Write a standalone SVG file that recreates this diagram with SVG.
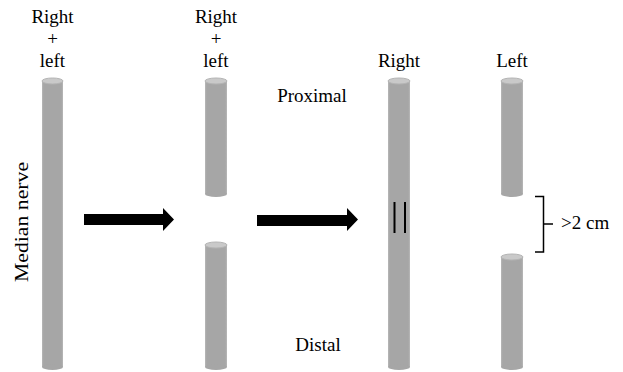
<svg xmlns="http://www.w3.org/2000/svg" width="623" height="372" viewBox="0 0 623 372">
<style>
.t{font-family:"Liberation Serif","Times New Roman",serif;font-size:19px;fill:#000;text-anchor:middle}
.body{fill:#a6a6a6}
.top{fill:#c9c9c9;stroke:#b4b4b4;stroke-width:1}
.arr{fill:#000}
</style>
<defs>
<linearGradient id="g" x1="0" x2="1" y1="0" y2="0">
<stop offset="0" stop-color="#b8b8b8"/>
<stop offset="0.08" stop-color="#a6a6a6"/>
<stop offset="0.92" stop-color="#a6a6a6"/>
<stop offset="1" stop-color="#b8b8b8"/>
</linearGradient>
</defs>
<rect width="623" height="372" fill="#fff"/>
<g id="labels">
<text class="t" x="52.5" y="23">Right</text>
<text class="t" x="52.5" y="45">+</text>
<text class="t" x="52.5" y="67">left</text>
<text class="t" x="216" y="23">Right</text>
<text class="t" x="216" y="45">+</text>
<text class="t" x="216" y="67">left</text>
<text class="t" x="399" y="67">Right</text>
<text class="t" x="512" y="67">Left</text>
<text class="t" x="312" y="102">Proximal</text>
<text class="t" x="318" y="351">Distal</text>
<text class="t" x="0" y="0" transform="translate(28,222) rotate(-90)" textLength="120" lengthAdjust="spacingAndGlyphs">Median nerve</text>
</g>
<g id="nerve1">
<rect x="42" y="81" width="21" height="286" fill="url(#g)"/>
<ellipse cx="52.5" cy="367" rx="10.5" ry="3" fill="#a6a6a6"/>
<ellipse class="top" cx="52.5" cy="81" rx="10.5" ry="3"/>
</g>
<g id="nerve2-proximal">
<rect x="205" y="81" width="22" height="113" fill="url(#g)"/>
<ellipse cx="216" cy="194" rx="11" ry="3" fill="#a6a6a6"/>
<ellipse class="top" cx="216" cy="81" rx="11" ry="3"/>
</g>
<g id="nerve2-distal">
<rect x="205" y="245" width="22" height="122" fill="url(#g)"/>
<ellipse cx="216" cy="367" rx="11" ry="3" fill="#a6a6a6"/>
<ellipse class="top" cx="216" cy="245" rx="11" ry="3"/>
</g>
<g id="nerve3-right">
<rect x="388" y="81" width="22" height="286" fill="url(#g)"/>
<ellipse cx="399" cy="367" rx="11" ry="3" fill="#a6a6a6"/>
<ellipse class="top" cx="399" cy="81" rx="11" ry="3"/>
<rect x="393.5" y="202" width="2" height="31" fill="#000"/>
<rect x="404" y="202" width="2" height="31" fill="#000"/>
</g>
<g id="nerve4-left-proximal">
<rect x="501" y="81" width="22" height="113" fill="url(#g)"/>
<ellipse cx="512" cy="194" rx="11" ry="3" fill="#a6a6a6"/>
<ellipse class="top" cx="512" cy="81" rx="11" ry="3"/>
</g>
<g id="nerve4-left-distal">
<rect x="501" y="257" width="22" height="110" fill="url(#g)"/>
<ellipse cx="512" cy="367" rx="11" ry="3" fill="#a6a6a6"/>
<ellipse class="top" cx="512" cy="257" rx="11" ry="3"/>
</g>
<g id="connectors">
<polygon class="arr" points="84,214 163,214 163,208 174,219.5 163,231 163,225 84,225"/>
<polygon class="arr" points="257,215 347,215 347,208 358,219.5 347,231 347,226 257,226"/>
<path d="M535,196.5 H543.5 V252 H535 M543.5,224 H553" fill="none" stroke="#000" stroke-width="1.5"/>
<text class="t" x="561" y="229" style="text-anchor:start">&gt;2 cm</text>
</g>
</svg>
